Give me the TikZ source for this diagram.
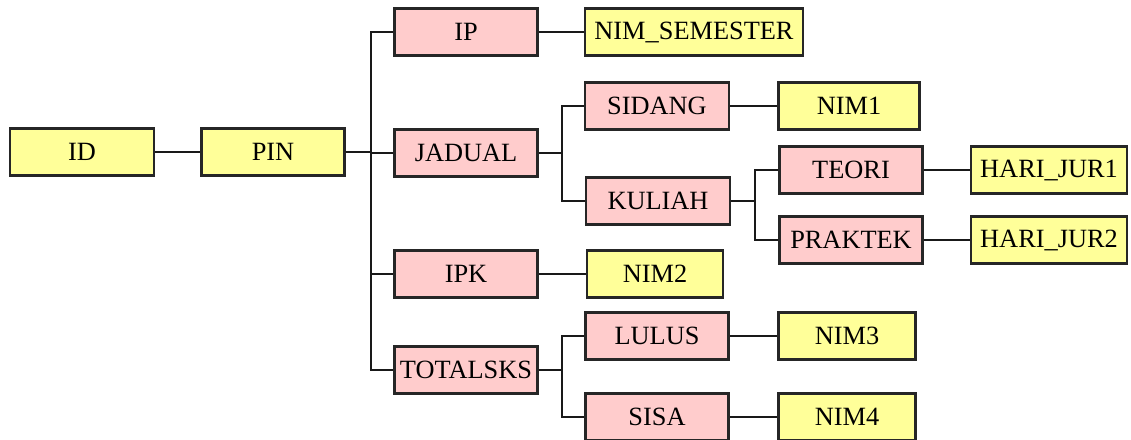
\documentclass[tikz,border=0pt]{standalone}
\usepackage{fontspec}
\setmainfont{Liberation Serif}
\definecolor{boxyellow}{HTML}{FFFF99}
\definecolor{boxpink}{HTML}{FFCCCC}
\begin{document}
\begin{tikzpicture}
  [x=0.02cm, y=-0.02cm,
   box/.style={rectangle, draw=black!85, line width=1.3pt, inner sep=1pt,
               minimum height=0.94cm, font=\fontsize{15}{18}\selectfont},
   yellowbox/.style={box, fill=boxyellow},
   pinkbox/.style={box, fill=boxpink},
   link/.style={line width=1.1pt, draw=black!90}]

  \useasboundingbox (0,0) rectangle (1131,439);

  % Kotak
  \node[yellowbox, minimum width=2.88cm] (id) at (82,152) {ID};
  \node[yellowbox, minimum width=2.86cm] (pin) at (273,152) {PIN};
  \node[pinkbox, minimum width=2.86cm] (ip) at (466,32) {IP};
  \node[yellowbox, minimum width=4.36cm] (nimsem) at (694,32) {NIM\_SEMESTER};
  \node[pinkbox, minimum width=2.86cm] (jadual) at (466,153) {JADUAL};
  \node[pinkbox, minimum width=2.88cm] (sidang) at (657,106) {SIDANG};
  \node[yellowbox, minimum width=2.82cm] (nim1) at (849,106) {NIM1};
  \node[pinkbox, minimum width=2.88cm] (kuliah) at (658,201) {KULIAH};
  \node[pinkbox, minimum width=2.86cm] (teori) at (851,170) {TEORI};
  \node[yellowbox, minimum width=3.12cm] (harijur1) at (1049,170) {HARI\_JUR1};
  \node[pinkbox, minimum width=2.86cm] (praktek) at (851,240) {PRAKTEK};
  \node[yellowbox, minimum width=3.12cm] (harijur2) at (1049,240) {HARI\_JUR2};
  \node[pinkbox, minimum width=2.86cm] (ipk) at (466,274) {IPK};
  \node[yellowbox, minimum width=2.72cm] (nim2) at (655,274) {NIM2};
  \node[pinkbox, minimum width=2.86cm] (totalsks) at (466,370) {TOTALSKS};
  \node[pinkbox, minimum width=2.86cm] (lulus) at (657,336) {LULUS};
  \node[yellowbox, minimum width=2.74cm] (nim3) at (847,336) {NIM3};
  \node[pinkbox, minimum width=2.86cm] (sisa) at (657,417) {SISA};
  \node[yellowbox, minimum width=2.74cm] (nim4) at (847,417) {NIM4};

  % Titik cabang
  \coordinate (jpin) at (371,152);
  \coordinate (jjadual) at (562,153);
  \coordinate (jkuliah) at (755,201);
  \coordinate (jtotal) at (562,370);

  % Garis lurus
  \foreach \from/\to in {id/pin, ip/nimsem, sidang/nim1, teori/harijur1,
                         praktek/harijur2, ipk/nim2, lulus/nim3, sisa/nim4}
    \draw[link] (\from) -- (\to);

  % Garis bercabang
  \foreach \to in {ip, jadual, ipk, totalsks}
    \draw[link] (pin.east) -- (jpin) |- (\to.west);
  \foreach \to in {sidang, kuliah}
    \draw[link] (jadual.east) -- (jjadual) |- (\to.west);
  \foreach \to in {teori, praktek}
    \draw[link] (kuliah.east) -- (jkuliah) |- (\to.west);
  \foreach \to in {lulus, sisa}
    \draw[link] (totalsks.east) -- (jtotal) |- (\to.west);
\end{tikzpicture}
\end{document}
